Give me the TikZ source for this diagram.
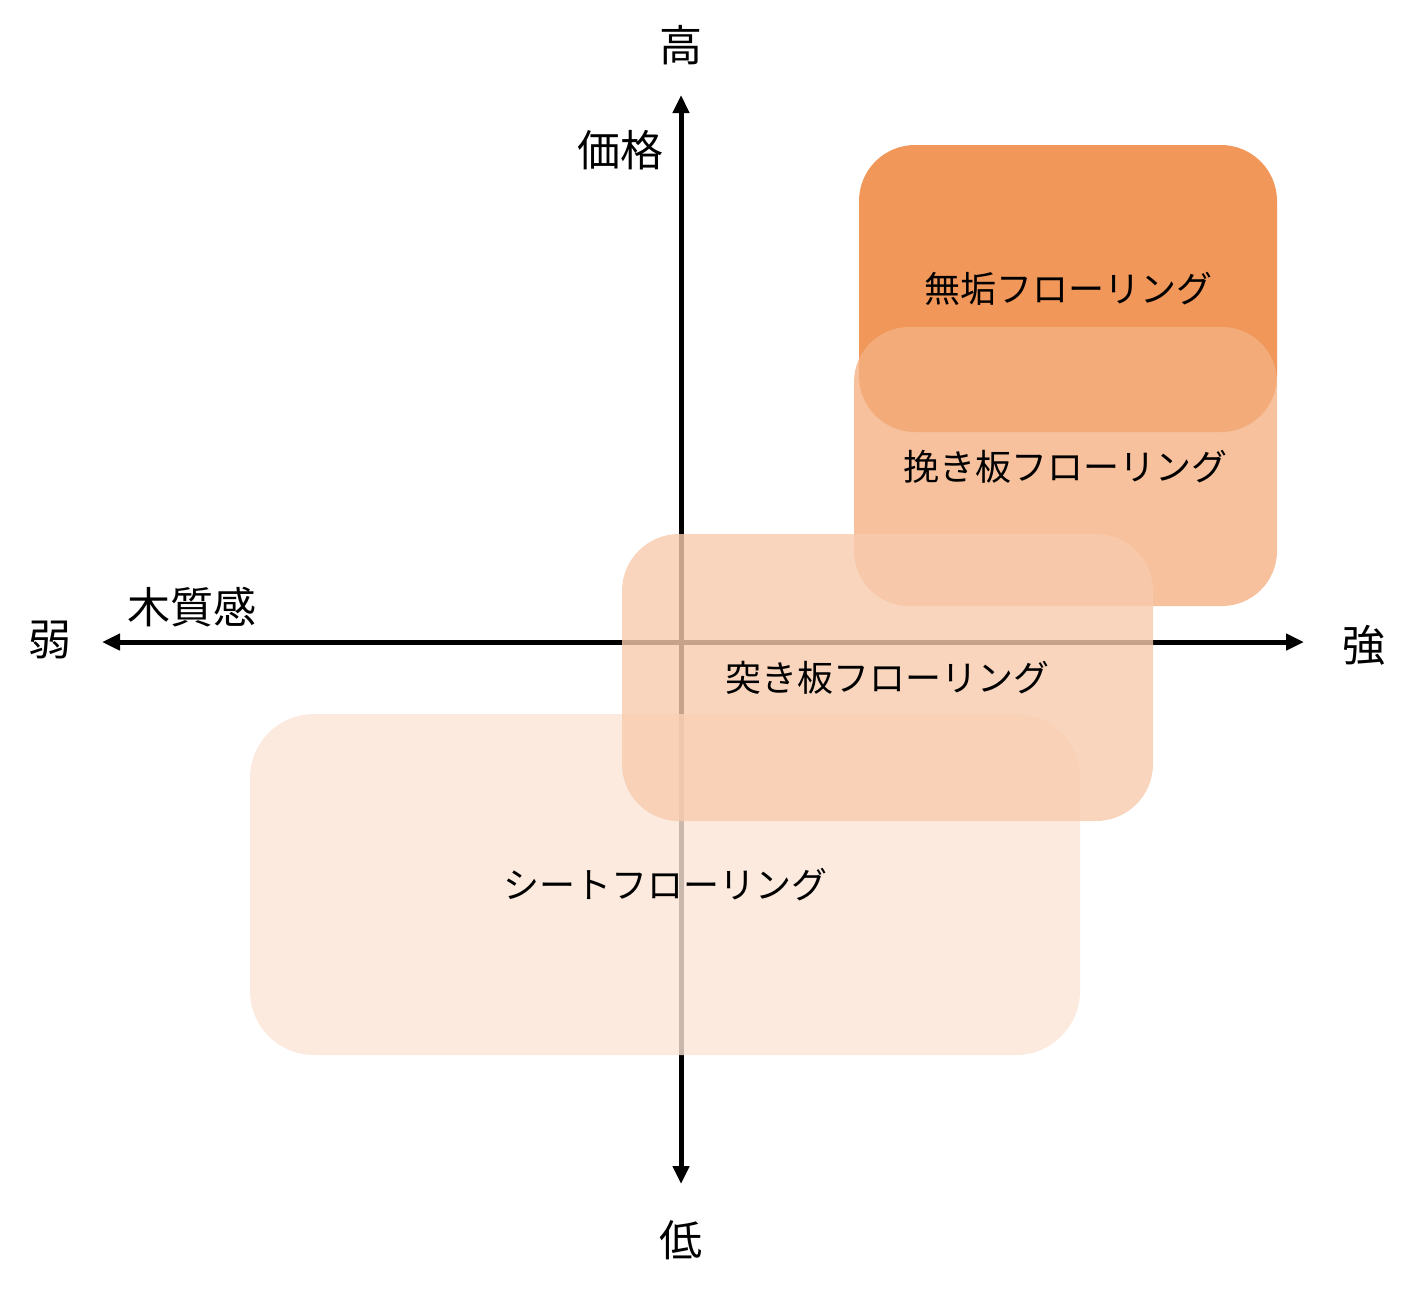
\documentclass[tikz,border=0pt]{standalone}
\usepackage{fontspec}
\setmainfont{Noto Sans CJK JP}
\usetikzlibrary{arrows.meta}
\definecolor{cMuku}{HTML}{ED7D31}
\definecolor{cHiki}{HTML}{F4B183}
\definecolor{cTsuki}{HTML}{F8CBAD}
\definecolor{cSheet}{HTML}{FBE5D6}
\tikzset{
  axisline/.style={line width=5pt, {Triangle[width=16pt,length=18pt]}-{Triangle[width=16pt,length=18pt]}},
  axislabel/.style={font=\fontsize{43}{48}\selectfont, inner sep=0pt},
  zone/.style={draw=none, fill opacity=0.8, text opacity=1, inner sep=0pt,
    font=\fontsize{36}{42}\selectfont, align=center},
}
\begin{document}
\begin{tikzpicture}[x=1pt,y=-1pt]
\useasboundingbox (0,0) rectangle (1415,1294);
% axes
\coordinate (top) at (681,95);
\coordinate (bot) at (681,1184);
\coordinate (left) at (102,642);
\coordinate (right) at (1304,642);
\draw[axisline] (bot) -- (top);
\draw[axisline] (left) -- (right);
% axis labels
\node[axislabel] (high) at (681,45) {高};
\node[axislabel] (price) at (620,150) {価格};
\node[axislabel] (low) at (681,1240) {低};
\node[axislabel] (weak) at (50,640) {弱};
\node[axislabel] (strong) at (1364,645) {強};
\node[axislabel] (wood) at (192,607) {木質感};
% zones
\node[zone, fill=cMuku, rounded corners=56pt, minimum width=418pt, minimum height=287pt] (muku) at (1068,288.5) {無垢フローリング};
\node[zone, fill=cHiki, rounded corners=55pt, minimum width=423pt, minimum height=279pt] (hiki) at (1065.5,466.5) {挽き板フローリング};
\node[zone, fill=cSheet, rounded corners=64pt, minimum width=830pt, minimum height=341pt] (sheet) at (665,884.5) {シートフローリング};
\node[zone, fill=cTsuki, rounded corners=57pt, minimum width=531pt, minimum height=287pt] (tsuki) at (887.5,677.5) {突き板フローリング};
\end{tikzpicture}
\end{document}
